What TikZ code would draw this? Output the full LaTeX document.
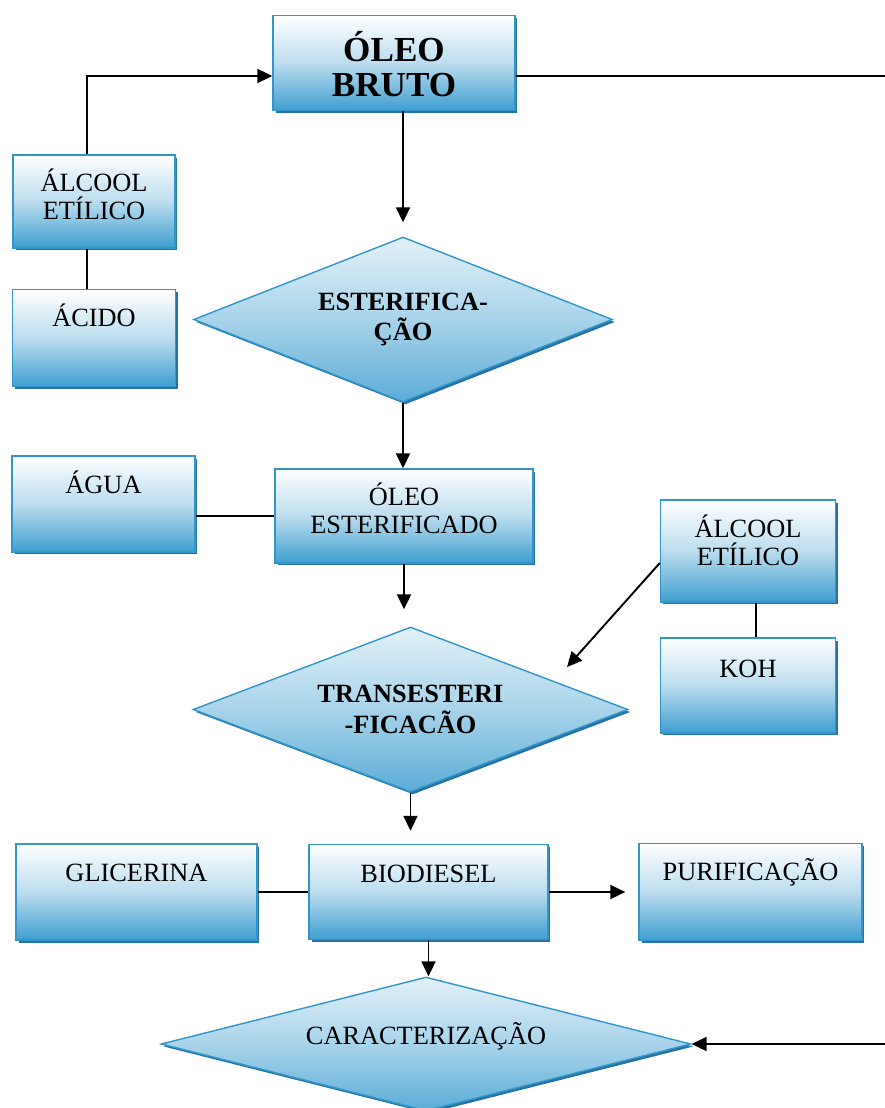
\documentclass[tikz,border=0pt]{standalone}
\usepackage{fontspec}
\setmainfont{Liberation Serif}
\usetikzlibrary{shapes.geometric,shadows,arrows.meta}
\begin{document}
\begin{tikzpicture}[x=0.02cm, y=-0.02cm,
    box/.style={draw=edgeblue, line width=0.8pt, top color=white, bottom color=boxblue, middle color=boxblue!35,
        drop shadow={shadow xshift=0.05cm, shadow yshift=-0.05cm, fill=shadowblue, opacity=1},
        font=\fontsize{15}{16}\selectfont, align=center, inner sep=0pt},
    dec/.style={box, diamond, shape aspect=2.6, top color=white!85!boxblue, bottom color=boxblue!85, middle color=boxblue!45,
        font=\bfseries\fontsize{15}{17.5}\selectfont},
    size/.style 2 args={minimum width=#1, minimum height=#2},
    oneline/.style={text height=10pt, text depth=#1},
    twoline/.style={text height=26pt, text depth=#1},
    link/.style={line width=1.1pt},
    flow/.style={line width=1.1pt, -{Triangle[length=0.3cm, width=0.28cm]}}]
    \definecolor{boxblue}{RGB}{62,158,208}
    \definecolor{edgeblue}{RGB}{52,150,200}
    \definecolor{shadowblue}{RGB}{40,115,165}
    \useasboundingbox (0,0) rectangle (885,1108);
    \node[box, size={4.84cm}{1.9cm}, font=\bfseries\fontsize{20}{20}\selectfont, text height=37.8pt, text depth=0pt] (bruto) at (394,63) {ÓLEO\\BRUTO};
    \node[box, size={3.24cm}{1.86cm}, twoline=0.2cm] (alcA) at (94,201.5) {ÁLCOOL\\ETÍLICO};
    \node[box, size={3.26cm}{1.94cm}, oneline=0.8cm] (acido) at (94,338) {ÁCIDO};
    \node[dec, size={8.38cm}{3.3cm}] (ester) at (403,319.5) {ESTERIFICA-\\ÇÃO};
    \node[box, size={3.66cm}{1.92cm}, oneline=0.76cm] (agua) at (103.5,504) {ÁGUA};
    \node[box, size={5.16cm}{1.88cm}, twoline=0.2cm] (oleoest) at (404,516) {ÓLEO\\ESTERIFICADO};
    \node[box, size={3.5cm}{2.04cm}, twoline=0.34cm] (alcB) at (748,551) {ÁLCOOL\\ETÍLICO};
    \node[box, size={3.5cm}{1.9cm}, oneline=0.68cm] (koh) at (748,685.5) {KOH};
    \node[dec, size={8.7cm}{3.3cm}] (trans) at (410.5,709.5) {TRANSESTERI\\-FICACÃO};
    \node[box, size={4.82cm}{1.92cm}, oneline=0.76cm] (glic) at (136.5,892) {GLICERINA};
    \node[box, size={4.78cm}{1.9cm}, oneline=0.74cm] (bio) at (428.5,892) {BIODIESEL};
    \node[box, size={4.46cm}{1.94cm}, oneline=0.8cm] (puri) at (750.5,892) {PURIFICAÇÃO};
    \node[dec, shape aspect=4, size={10.6cm}{2.68cm}, font=\fontsize{15}{16}\selectfont, oneline=0.32cm] (carac) at (426,1044) {CARACTERIZAÇÃO};
    \coordinate (topright) at (885,76);
    \coordinate (botright) at (885,1044);
    \coordinate (tip) at (567,667);
    \draw[flow] ([xshift=-0.14cm]alcA.north) |- ([yshift=-0.26cm]bruto.west);
    \draw[link] ([xshift=-0.14cm]alcA.south) -- ([xshift=-0.14cm]acido.north);
    \draw[link] ([yshift=-0.26cm]bruto.east) -- (topright);
    \draw[flow, shorten >=0.28cm] (bruto.south -| ester.north) -- (ester.north);
    \draw[flow] (ester.south) -- (ester.south |- oleoest.north);
    \draw[link] (oleoest.west -| agua.east) -- (oleoest.west);
    \draw[flow, shorten >=0.34cm] (oleoest.south) -- (oleoest.south |- trans.north);
    \draw[flow] ([yshift=-0.24cm]alcB.west) -- (tip);
    \draw[link] ([xshift=0.16cm]alcB.south) -- ([xshift=0.16cm]koh.north);
    \draw[flow, shorten >=0.26cm] (trans.south) -- (trans.south |- bio.north);
    \draw[link] (glic.east) -- (glic.east -| bio.west);
    \draw[flow, shorten >=0.26cm] (bio.east) -- (puri.west);
    \draw[flow] (bio.south) -- (bio.south |- carac.north);
    \draw[flow] (botright) -- (carac.east);
\end{tikzpicture}
\end{document}
